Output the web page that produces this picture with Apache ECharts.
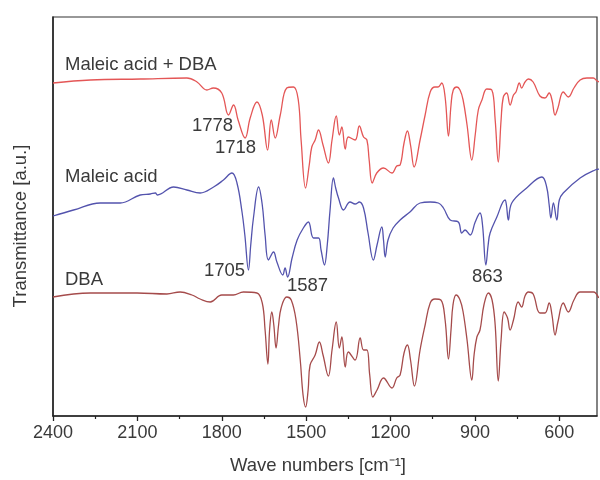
<!DOCTYPE html>
<html>
<head>
<meta charset="utf-8">
<script src="https://cdn.jsdelivr.net/npm/echarts@6/dist/echarts.min.js"></script>
<style>html,body{margin:0;padding:0;background:#fff}#c{width:600px;height:480px}</style>
</head>
<body>
<div id="c"></div>
<script>
// Wavenumbers (cm-1) and transmittance (arbitrary units, offset per trace)
const wnMix = [2400,2267,2090,1924,1888,1853,1830,1800,1776,1758,1742,1717,1699,1675,1656,1637,1624,1610,1592,1569,1545,1528,1518,1502,1489,1480,1468,1456,1440,1421,1408,1393,1382,1373,1361,1350,1326,1311,1296,1284,1276,1265,1249,1225,1195,1178,1166,1152,1140,1129,1116,1095,1077,1059,1042,1031,1018,1006,994,985,977,964,953,942,928,911,899,888,875,858,840,828,817,807,799,787,775,763,754,742,734,722,710,693,669,651,636,626,615,605,586,568,548,526,502,479,466,455];
const tMix  = [333,336,337,338,334,326,328,323,301,311,296,278,298,314,301,266,296,278,301,328,329,316,276,228,251,269,276,286,271,253,276,300,281,289,267,279,276,290,279,276,256,233,243,248,243,250,251,273,285,271,249,276,301,324,329,329,333,319,280,311,326,329,326,316,291,256,281,306,316,327,326,296,254,296,319,323,311,321,324,333,328,334,337,334,320,318,323,316,301,308,324,319,328,336,338,338,335,334];

const wnMA = [2400,2327,2232,2161,2090,2054,2036,2029,1971,1924,1877,1829,1794,1764,1746,1728,1718,1705,1697,1687,1669,1656,1646,1634,1616,1604,1583,1575,1566,1550,1532,1510,1492,1474,1456,1447,1435,1425,1415,1403,1395,1385,1367,1344,1326,1311,1296,1280,1261,1248,1231,1225,1219,1209,1191,1166,1131,1095,1059,1030,1012,988,959,947,935,917,899,882,873,861,853,846,822,793,788,781,769,716,662,645,636,630,621,609,600,586,526,473,455];
const tMA  = [200,206,213,213,221,222,223,221,229,226,223,229,236,243,233,204,181,146,171,199,229,211,181,156,164,154,141,148,139,158,176,188,194,178,178,166,151,171,206,238,228,218,206,214,212,214,208,183,156,171,189,176,159,176,188,196,204,213,214,213,208,196,194,183,186,181,194,203,191,151,171,183,199,216,211,196,213,228,239,229,211,198,213,196,216,223,238,246,247];

const wnDBA = [2400,2267,2101,1995,1948,1906,1877,1841,1800,1759,1723,1675,1656,1646,1636,1630,1622,1615,1607,1598,1589,1569,1553,1536,1521,1511,1502,1493,1486,1468,1453,1440,1421,1408,1393,1382,1373,1361,1350,1326,1308,1296,1284,1274,1263,1248,1225,1195,1178,1166,1152,1140,1129,1115,1095,1077,1059,1042,1021,1006,994,985,978,967,953,942,928,911,903,893,882,868,852,839,828,817,807,796,784,775,763,746,734,722,710,693,669,651,636,626,615,605,586,568,548,526,479,460];
const tDBA  = [119,123,123,122,124,121,117,114,121,121,124,123,113,86,52,86,104,91,68,91,108,119,116,96,56,21,9,26,51,61,74,61,40,66,94,68,79,49,64,56,78,66,66,41,19,26,38,28,38,41,63,71,56,30,66,91,113,117,116,96,57,86,111,121,116,104,76,36,61,79,86,111,123,116,91,35,76,104,98,86,96,114,109,120,124,122,103,103,113,101,81,94,113,104,116,124,124,118];

const xTickValues  = [600, 900, 1200, 1500, 1800, 2100, 2400];
const xMinorValues = [750, 1050, 1350, 1650, 1950, 2250];

const seriesNames = ['Maleic acid + DBA', 'Maleic acid', 'DBA'];
const peakLabels = ['1778', '1718', '1705', '1587', '863'];

const pair = (w, t) => w.map((v, i) => [v, t[i]]);
const FONT = 'Liberation Sans, Arial, Helvetica, sans-serif';
const TXT = '#3a3a3a';
const FS = 18.5;

const chart = echarts.init(document.getElementById('c'), null, {renderer: 'canvas'});
const gridCfg = {left: 53, right: 3, top: 17, bottom: 64, show: true, borderColor: '#333', borderWidth: 1.2};
const xBase = {type: 'value', min: 466, max: 2400, inverse: true, gridIndex: 0, position: 'bottom', splitLine: {show: false}};

function txt(text, x, y, extra) {
  return {
    type: 'text', x: x, y: y, silent: true,
    style: Object.assign({text: text, fill: TXT, fontSize: FS, fontFamily: FONT, align: 'left', verticalAlign: 'middle'}, extra || {})
  };
}

chart.setOption({
  animation: false,
  backgroundColor: '#fff',
  grid: gridCfg,
  xAxis: [
    Object.assign({}, xBase, {
      axisLine: {show: true, lineStyle: {color: '#222', width: 1.5}},
      axisTick: {show: true, length: 5, lineStyle: {color: '#222', width: 1.3}, customValues: xTickValues},
      axisLabel: {show: true, color: TXT, fontSize: 18, fontFamily: FONT, margin: 8, customValues: xTickValues,
                  formatter: function (v) { return String(v); }}
    }),
    Object.assign({}, xBase, {
      axisLine: {show: true, onZero: false, lineStyle: {color: 'rgba(0,0,0,0)', width: 0}},
      axisTick: {show: true, length: 3, lineStyle: {color: '#222', width: 1.2}, customValues: xMinorValues},
      axisLabel: {show: true, customValues: xMinorValues, formatter: function () { return ''; }}
    })
  ],
  yAxis: {
    type: 'value', min: 0, max: 399,
    axisLine: {show: true, lineStyle: {color: '#222', width: 1.5}},
    axisTick: {show: false}, axisLabel: {show: false}, splitLine: {show: false}
  },
  series: [
    {name: seriesNames[0], type: 'line', data: pair(wnMix, tMix), showSymbol: false, smooth: 0.4,
     lineStyle: {color: '#e45656', width: 1.3}},
    {name: seriesNames[1], type: 'line', data: pair(wnMA, tMA), showSymbol: false, smooth: 0.4,
     lineStyle: {color: '#5353ad', width: 1.3}},
    {name: seriesNames[2], type: 'line', data: pair(wnDBA, tDBA), showSymbol: false, smooth: 0.4,
     lineStyle: {color: '#a54b4b', width: 1.3}}
  ],
  graphic: [
    txt(seriesNames[0], 65, 65),
    txt(seriesNames[1], 65, 177),
    txt(seriesNames[2], 65, 280),
    txt(peakLabels[0], 192, 126),
    txt(peakLabels[1], 215, 148),
    txt(peakLabels[2], 204, 271),
    txt(peakLabels[3], 287, 286),
    txt(peakLabels[4], 472, 277),
    txt('Wave numbers [cm\u207B\u00B9]', 318, 466, {align: 'center'}),
    Object.assign(txt('Transmittance [a.u.]', 20.5, 226, {align: 'center'}), {rotation: Math.PI / 2})
  ]
});
</script>
</body>
</html>
